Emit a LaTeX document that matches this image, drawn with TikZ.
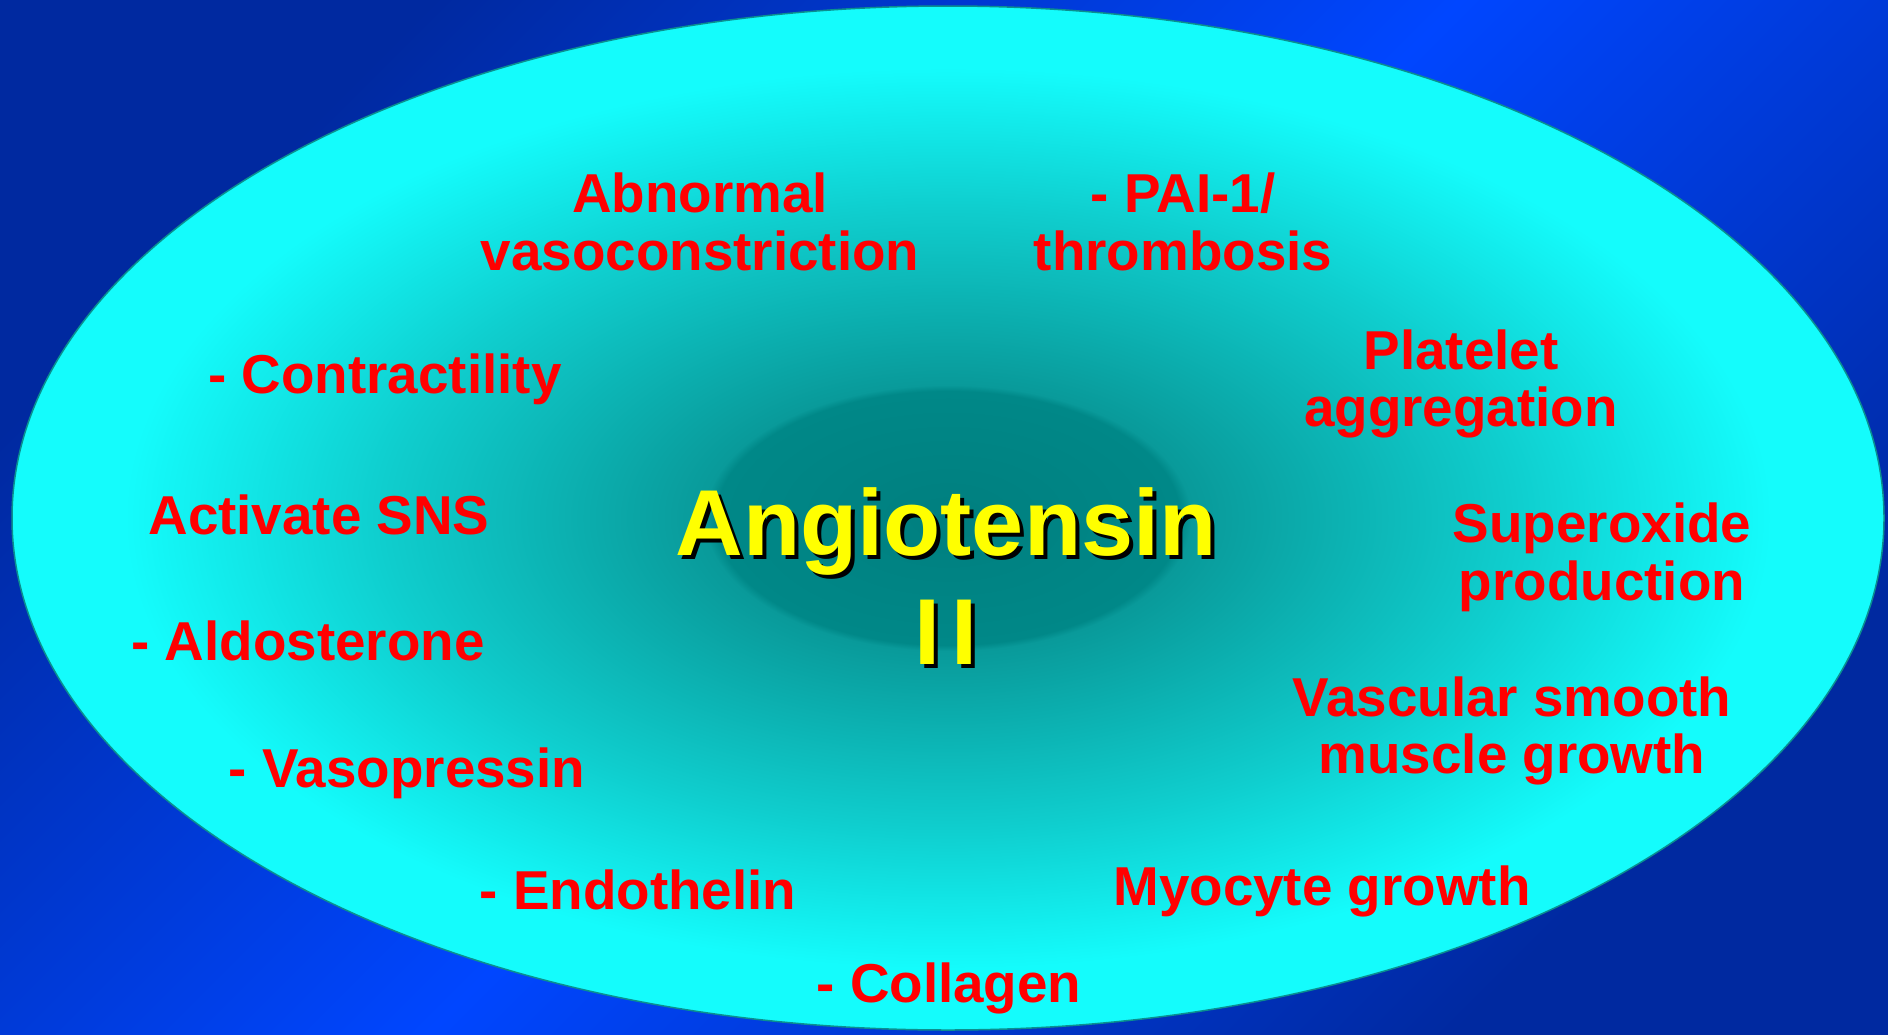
\documentclass[tikz,border=0pt]{standalone}
\usepackage{fontspec}
\setmainfont{Liberation Sans}
\usepackage{tikz}
\definecolor{deepblue}{HTML}{0029A0}
\definecolor{brightblue}{HTML}{0046FF}
\definecolor{rim}{HTML}{0A8F8F}
\definecolor{core}{HTML}{007F7F}
\definecolor{coreedge}{HTML}{008888}
\definecolor{band}{HTML}{099A9A}
\definecolor{mid}{HTML}{0FCDCD}
\definecolor{glow}{HTML}{14FCFC}
\definecolor{effect}{HTML}{FF0000}
\definecolor{title}{HTML}{FFFF00}
\pgfdeclareradialshading{cellshade}{\pgfpoint{0bp}{0bp}}{%
  color(0bp)=(core); color(6.2bp)=(coreedge); color(6.5bp)=(band);
  color(15bp)=(mid); color(22bp)=(glow); color(25bp)=(glow); color(50bp)=(glow)}
\newcommand\dropshadow[1]{\leavevmode\rlap{\kern4bp\raisebox{-4bp}{\textcolor{black}{#1}}}#1}

\begin{document}
\begin{tikzpicture}[x=1bp,y=-1bp,
  effect/.style={text=effect,align=center,font=\fontsize{55}{58}\selectfont\bfseries},
  titletext/.style={text=title,align=center,font=\fontsize{94}{109}\selectfont\bfseries}]
\useasboundingbox (0,0) rectangle (1888,1034);
\shade[top color=deepblue,bottom color=deepblue,middle color=brightblue,shading angle=45]
  (0,0) rectangle (1888,1034);
\shade[shading=cellshade,draw=rim,line width=1.5bp] (948,518) ellipse [x radius=936,y radius=512];
% centre label with drop shadow
\node[titletext] (ang) at (946,578) {\dropshadow{Angiotensin}\\\dropshadow{I\hspace{0.12em}I}};
% effects round the ellipse
\node[effect] (vaso) at (700,222) {Abnormal\\vasoconstriction};
\node[effect] (pai) at (1183,222) {- PAI-1/\\thrombosis};
\node[effect] (plat) at (1461,384) {Platelet\\aggregation};
\node[effect] (contr) at (385,379) {- Contractility};
\node[effect] (sns) at (319,515) {Activate SNS};
\node[effect] (superox) at (1602,557) {Superoxide\\production};
\node[effect] (aldo) at (308,641) {- Aldosterone};
\node[effect] (vsmc) at (1512,731) {Vascular smooth\\muscle growth};
\node[effect] (vasopr) at (407,773) {- Vasopressin};
\node[effect] (endo) at (638,890) {- Endothelin};
\node[effect] (myo) at (1322,891) {Myocyte growth};
\node[effect] (coll) at (949,988) {- Collagen};
\end{tikzpicture}
\end{document}
